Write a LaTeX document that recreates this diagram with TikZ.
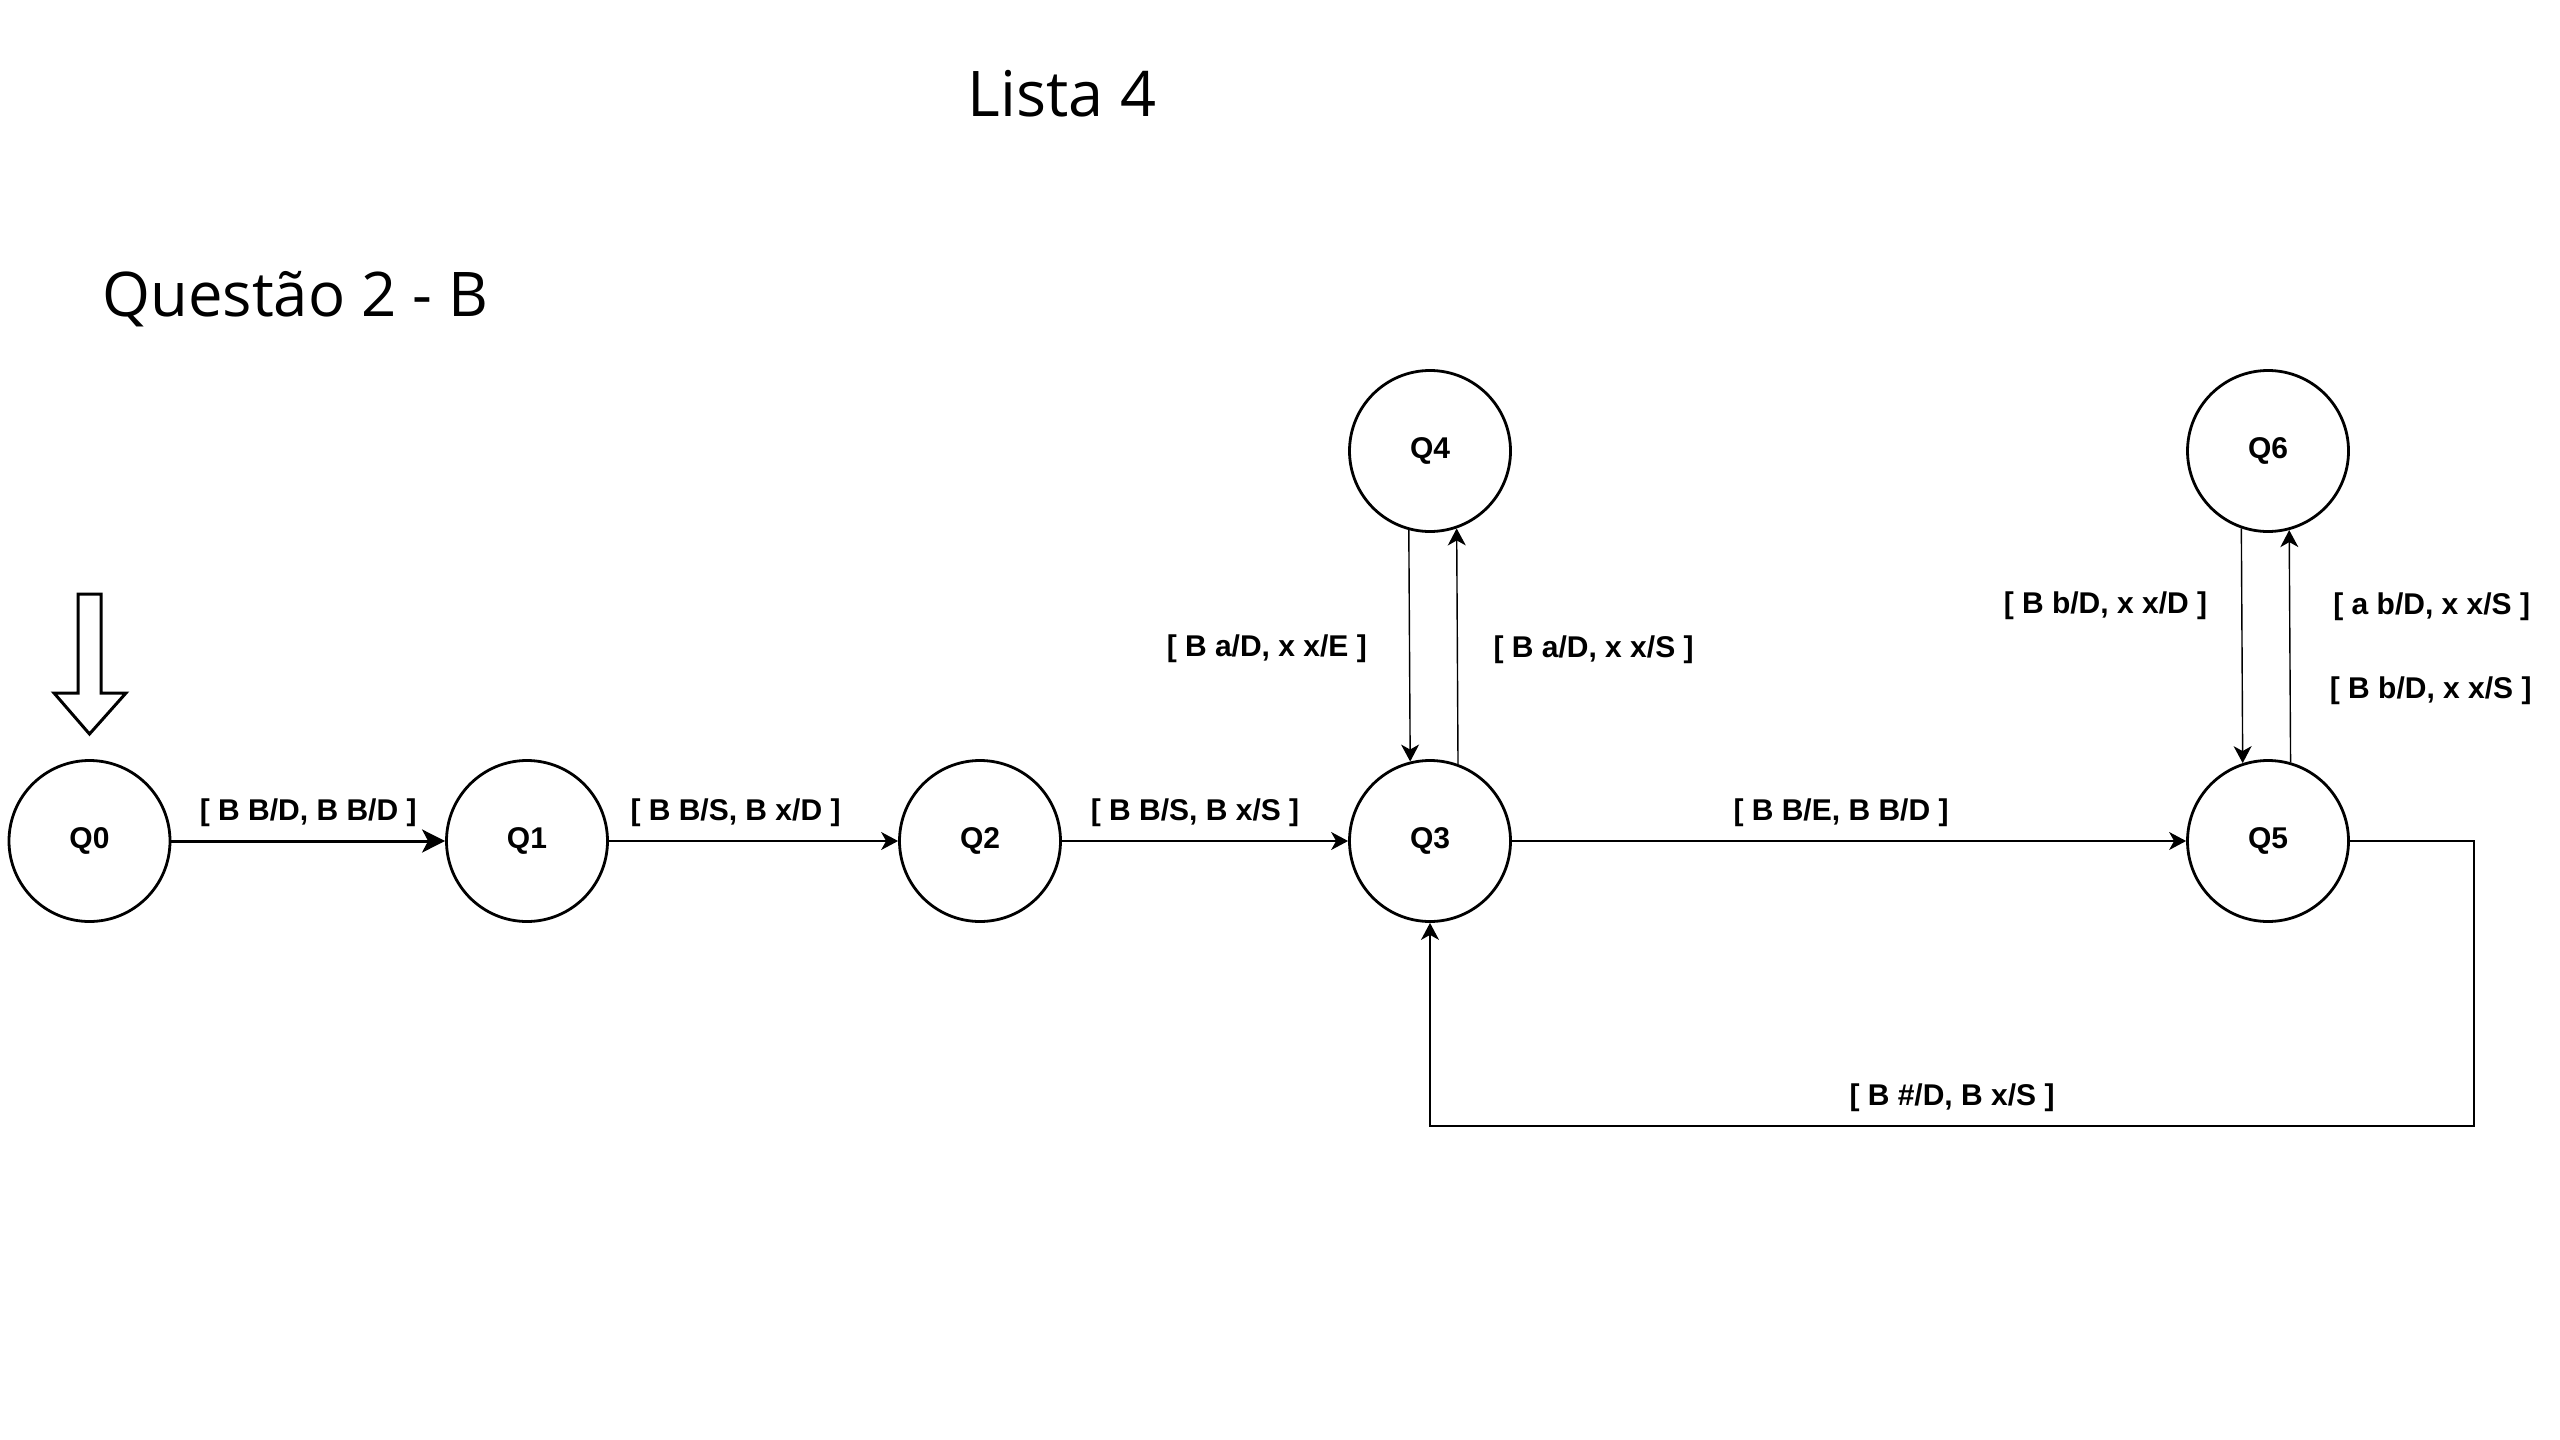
\documentclass[tikz,border=0pt]{standalone}
\usepackage{fontspec}
\setmainfont{Liberation Sans}
\newfontfamily\titlefont{Open Sans}
\usetikzlibrary{arrows.meta}

\begin{document}
\begin{tikzpicture}[x=0.5pt,y=-0.5pt,
    state/.style={draw,circle,line width=1.4pt,minimum size=80.5pt,inner sep=0pt,font=\bfseries\fontsize{15}{18}\selectfont},
    lbl/.style={inner sep=0pt,font=\bfseries\fontsize{15}{18}\selectfont},
    title/.style={inner sep=0pt,font=\titlefont\fontsize{31.5}{36}\selectfont},
    tr/.style={line width=0.7pt,-{Stealth[length=8.5pt,width=9pt,inset=2.5pt]}}]
    \useasboundingbox (0,0) rectangle (2560,1440);

    \node[title] (lista) at (1062,94) {Lista 4};
    \node[title,anchor=west,font=\titlefont\fontsize{30.8}{36}\selectfont] (questao) at (102,299) {Questão 2 - B};

    \node[state] (q0) at (89.5,841) {Q0};
    \node[state] (q1) at (527,841) {Q1};
    \node[state] (q2) at (980,841) {Q2};
    \node[state] (q3) at (1430,841) {Q3};
    \node[state] (q5) at (2268,841) {Q5};
    \node[state] (q4) at (1430,451) {Q4};
    \node[state] (q6) at (2268,451) {Q6};

    \draw[line width=1.5pt] (78,594) -- (101,594) -- (101,693) -- (126,693) -- (89.5,734) -- (54,693) -- (78,693) -- cycle;

    \draw[tr,line width=1.5pt,-{Stealth[length=11.5pt,width=11.5pt,inset=3pt]}] (q0) -- node[lbl,yshift=14pt]{[ B B/D, B B/D ]} (q1);
    \draw[tr] (q1) -- node[lbl,yshift=14pt,xshift=-9pt]{[ B B/S, B x/D ]} (q2);
    \draw[tr] (q2) -- node[lbl,yshift=14pt,xshift=-5pt]{[ B B/S, B x/S ]} (q3);
    \draw[tr] (q3) -- node[lbl,yshift=14pt,xshift=-4pt]{[ B B/E, B B/D ]} (q5);

    \draw[tr] (q4.255.88) -- node[lbl,left=21pt,yshift=-1.5pt]{[ B a/D, x x/E ]} (q3.104.12);
    \draw[tr] (q3.70.03) -- node[lbl,right=17.75pt,yshift=-1.5pt]{[ B a/D, x x/S ]} (q4.289.97);

    \draw[tr] (q6.251.51) -- node[lbl,pos=0.33,left=17pt]{[ B b/D, x x/D ]} (q5.108.49);
    \draw[tr] (q5.74.44) -- node[lbl,pos=0.67,right=21.5pt]{[ a b/D, x x/S ]} node[lbl,pos=0.31,right=19.5pt]{[ B b/D, x x/S ]} (q6.285.56);

    \coordinate (back) at (2474,1126);
    \draw[tr] (q5.east) -| (back) -| node[lbl,pos=0.25,yshift=14pt]{[ B \#/D, B x/S ]} (q3.south);
\end{tikzpicture}
\end{document}
